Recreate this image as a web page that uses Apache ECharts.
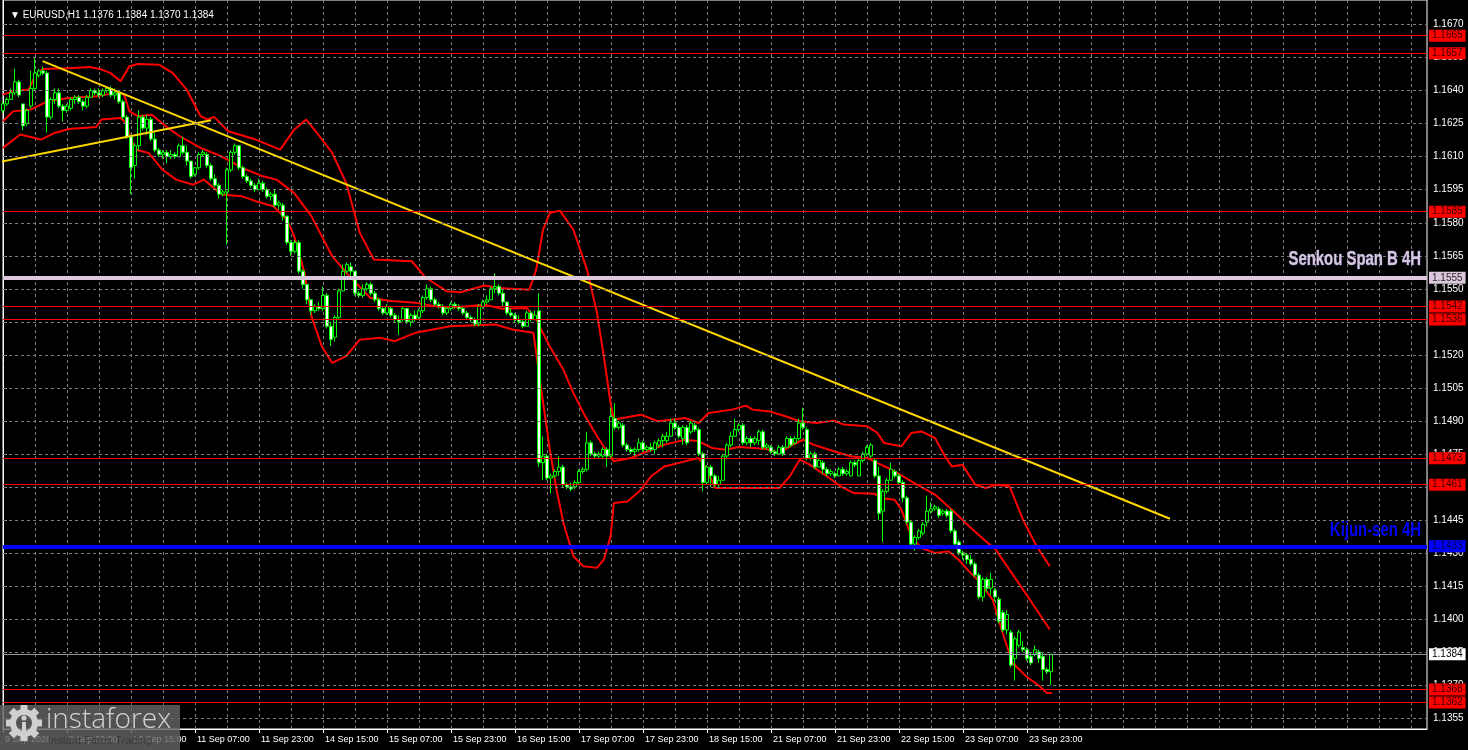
<!DOCTYPE html>
<html>
<head>
<meta charset="utf-8">
<script src="https://cdn.jsdelivr.net/npm/echarts@6/dist/echarts.min.js"></script>
<style>
html,body{margin:0;padding:0;background:#000;}
#chart{width:1468px;height:750px;}
</style>
</head>
<body>
<div id="chart"></div>
<script>
// ---------------- DATA ----------------
const symbolName = 'EURUSD,H1';
const xTickLabels = ['9 Sep 2026','9 Sep 23:00','10 Sep 15:00','11 Sep 07:00','11 Sep 23:00','14 Sep 15:00','15 Sep 07:00','15 Sep 23:00','16 Sep 15:00','17 Sep 07:00','17 Sep 23:00','18 Sep 15:00','21 Sep 07:00','21 Sep 23:00','22 Sep 15:00','23 Sep 07:00','23 Sep 23:00'];
const yTickValues = [1.1355,1.1370,1.1385,1.1400,1.1415,1.1430,1.1445,1.1460,1.1475,1.1490,1.1505,1.1520,1.1535,1.1550,1.1565,1.1580,1.1595,1.1610,1.1625,1.1640,1.1655,1.1670];

// hourly candles: [open, close, low, high]
const ohlc = [
[1.1631,1.1634,1.1630,1.1635],[1.1634,1.1636,1.1633,1.1637],[1.1636,1.1639,1.1636,1.1641],[1.1639,1.1644,1.1638,1.1650],
[1.1644,1.1638,1.1637,1.1645],[1.1634,1.1624,1.1622,1.1634],[1.1625,1.1631,1.1624,1.1632],[1.1633,1.1641,1.1632,1.1649],
[1.1641,1.1648,1.1640,1.1655],[1.1647,1.1649,1.1646,1.1650],[1.1649,1.1648,1.1647,1.1651],[1.1648,1.1628,1.1621,1.1649],
[1.1628,1.1636,1.1627,1.1637],[1.1636,1.1639,1.1634,1.1641],[1.1639,1.1633,1.1632,1.1641],[1.1633,1.1631,1.1626,1.1634],
[1.1631,1.1633,1.1630,1.1634],[1.1632,1.1636,1.1631,1.1637],[1.1636,1.1637,1.1634,1.1638],[1.1637,1.1635,1.1634,1.1638],
[1.1635,1.1633,1.1631,1.1636],[1.1633,1.1637,1.1632,1.1638],[1.1637,1.1640,1.1637,1.1641],[1.1640,1.1639,1.1638,1.1641],
[1.1639,1.1638,1.1637,1.1641],[1.1638,1.1640,1.1637,1.1641],[1.1640,1.1641,1.1639,1.1642],[1.1641,1.1638,1.1637,1.1642],
[1.1638,1.1639,1.1636,1.1641],[1.1639,1.1635,1.1634,1.1640],[1.1635,1.1628,1.1627,1.1636],[1.1628,1.1619,1.1618,1.1629],
[1.1619,1.1605,1.1593,1.1620],[1.1606,1.1615,1.1600,1.1616],[1.1615,1.1628,1.1613,1.1631],[1.1628,1.1623,1.1622,1.1629],
[1.1623,1.1627,1.1620,1.1629],[1.1627,1.1618,1.1617,1.1628],[1.1618,1.1613,1.1612,1.1621],[1.1613,1.1611,1.1610,1.1614],
[1.1611,1.1612,1.1609,1.1613],[1.1612,1.1610,1.1607,1.1613],[1.1610,1.1611,1.1609,1.1613],[1.1611,1.1610,1.1609,1.1612],
[1.1610,1.1615,1.1610,1.1616],[1.1615,1.1612,1.1611,1.1619],[1.1612,1.1608,1.1606,1.1615],[1.1608,1.1601,1.1600,1.1608],
[1.1602,1.1605,1.1601,1.1605],[1.1605,1.1611,1.1604,1.1612],[1.1611,1.1612,1.1610,1.1613],[1.1611,1.1606,1.1605,1.1612],
[1.1606,1.1600,1.1599,1.1607],[1.1600,1.1597,1.1596,1.1602],[1.1597,1.1593,1.1591,1.1598],[1.1593,1.1594,1.1592,1.1595],
[1.1594,1.1604,1.1570,1.1605],[1.1604,1.1612,1.1603,1.1613],[1.1612,1.1615,1.1611,1.1616],[1.1615,1.1605,1.1604,1.1615],
[1.1605,1.1601,1.1600,1.1606],[1.1601,1.1599,1.1598,1.1602],[1.1599,1.1597,1.1596,1.1600],[1.1597,1.1595,1.1594,1.1598],
[1.1595,1.1598,1.1595,1.1600],[1.1598,1.1595,1.1594,1.1599],[1.1595,1.1592,1.1591,1.1596],[1.1592,1.1593,1.1590,1.1594],
[1.1593,1.1588,1.1587,1.1595],[1.1588,1.1589,1.1586,1.1590],[1.1588,1.1583,1.1581,1.1589],[1.1583,1.1571,1.1570,1.1583],
[1.1571,1.1567,1.1565,1.1572],[1.1567,1.1571,1.1566,1.1572],[1.1571,1.1558,1.1557,1.1572],[1.1558,1.1552,1.1550,1.1559],
[1.1552,1.1545,1.1543,1.1552],[1.1545,1.1540,1.1538,1.1545],[1.1540,1.1542,1.1539,1.1543],[1.1542,1.1541,1.1540,1.1544],
[1.1541,1.1547,1.1540,1.1551],[1.1547,1.1533,1.1532,1.1548],[1.1533,1.1527,1.1524,1.1535],[1.1528,1.1537,1.1526,1.1538],
[1.1537,1.1549,1.1536,1.1550],[1.1549,1.1558,1.1549,1.1561],[1.1558,1.1561,1.1557,1.1562],[1.1560,1.1558,1.1556,1.1562],
[1.1558,1.1548,1.1547,1.1558],[1.1548,1.1547,1.1546,1.1549],[1.1547,1.1550,1.1546,1.1552],[1.1550,1.1552,1.1549,1.1553],
[1.1552,1.1548,1.1547,1.1553],[1.1548,1.1545,1.1544,1.1549],[1.1545,1.1541,1.1540,1.1546],[1.1541,1.1539,1.1538,1.1542],
[1.1539,1.1542,1.1538,1.1543],[1.1541,1.1538,1.1537,1.1542],[1.1538,1.1536,1.1535,1.1539],[1.1536,1.1535,1.1529,1.1538],
[1.1536,1.1541,1.1535,1.1542],[1.1541,1.1535,1.1534,1.1541],[1.1535,1.1538,1.1533,1.1539],[1.1538,1.1536,1.1535,1.1540],
[1.1537,1.1540,1.1536,1.1541],[1.1540,1.1546,1.1539,1.1547],[1.1546,1.1550,1.1545,1.1552],[1.1550,1.1545,1.1544,1.1551],
[1.1545,1.1543,1.1542,1.1546],[1.1543,1.1542,1.1541,1.1544],[1.1542,1.1539,1.1538,1.1543],[1.1539,1.1541,1.1538,1.1542],
[1.1541,1.1543,1.1540,1.1544],[1.1543,1.1542,1.1541,1.1544],[1.1542,1.1541,1.1540,1.1543],[1.1541,1.1539,1.1538,1.1542],
[1.1539,1.1537,1.1536,1.1540],[1.1537,1.1536,1.1535,1.1538],[1.1536,1.1534,1.1533,1.1537],[1.1534,1.1542,1.1533,1.1543],
[1.1542,1.1544,1.1541,1.1545],[1.1544,1.1545,1.1543,1.1547],[1.1545,1.1550,1.1545,1.1551],[1.1550,1.1551,1.1548,1.1557],
[1.1551,1.1548,1.1547,1.1552],[1.1548,1.1544,1.1542,1.1550],[1.1544,1.1539,1.1538,1.1544],[1.1539,1.1538,1.1537,1.1541],
[1.1538,1.1536,1.1535,1.1539],[1.1536,1.1535,1.1534,1.1538],[1.1535,1.1533,1.1532,1.1536],[1.1533,1.1539,1.1533,1.1540],
[1.1539,1.1536,1.1535,1.1540],[1.1536,1.1538,1.1536,1.1540],[1.1540,1.1471,1.1469,1.1548],[1.1471,1.1474,1.1463,1.1483],
[1.1474,1.1464,1.1463,1.1475],[1.1464,1.1465,1.1457,1.1466],[1.1465,1.1467,1.1464,1.1468],[1.1467,1.1469,1.1465,1.1474],
[1.1469,1.1461,1.1460,1.1470],[1.1461,1.1460,1.1459,1.1462],[1.1460,1.1459,1.1458,1.1462],[1.1460,1.1462,1.1459,1.1463],
[1.1462,1.1467,1.1461,1.1468],[1.1467,1.1468,1.1466,1.1469],[1.1468,1.1480,1.1467,1.1485],[1.1480,1.1475,1.1474,1.1481],
[1.1475,1.1474,1.1473,1.1476],[1.1474,1.1475,1.1473,1.1476],[1.1474,1.1477,1.1473,1.1478],[1.1477,1.1474,1.1469,1.1478],
[1.1474,1.1492,1.1473,1.1496],[1.1491,1.1487,1.1486,1.1498],[1.1487,1.1489,1.1486,1.1490],[1.1488,1.1479,1.1478,1.1489],
[1.1479,1.1477,1.1476,1.1480],[1.1477,1.1476,1.1475,1.1478],[1.1476,1.1477,1.1474,1.1478],[1.1477,1.1480,1.1476,1.1482],
[1.1480,1.1477,1.1476,1.1481],[1.1477,1.1478,1.1476,1.1479],[1.1478,1.1477,1.1476,1.1480],[1.1477,1.1480,1.1475,1.1481],
[1.1479,1.1481,1.1478,1.1482],[1.1481,1.1483,1.1478,1.1484],[1.1481,1.1483,1.1480,1.1485],[1.1483,1.1489,1.1483,1.1491],
[1.1489,1.1487,1.1486,1.1491],[1.1487,1.1483,1.1482,1.1488],[1.1482,1.1487,1.1479,1.1488],[1.1487,1.1480,1.1479,1.1488],
[1.1485,1.1489,1.1484,1.1490],[1.1488,1.1486,1.1485,1.1489],[1.1486,1.1475,1.1474,1.1487],[1.1475,1.1462,1.1458,1.1476],
[1.1462,1.1469,1.1461,1.1470],[1.1469,1.1465,1.1460,1.1470],[1.1465,1.1461,1.1460,1.1466],[1.1461,1.1463,1.1460,1.1465],
[1.1463,1.1474,1.1463,1.1475],[1.1474,1.1479,1.1473,1.1480],[1.1479,1.1483,1.1478,1.1485],[1.1483,1.1486,1.1483,1.1491],
[1.1486,1.1488,1.1485,1.1489],[1.1488,1.1480,1.1479,1.1489],[1.1480,1.1482,1.1479,1.1483],[1.1482,1.1480,1.1478,1.1483],
[1.1480,1.1482,1.1479,1.1483],[1.1481,1.1485,1.1479,1.1486],[1.1485,1.1478,1.1477,1.1486],[1.1478,1.1479,1.1477,1.1480],
[1.1478,1.1476,1.1475,1.1479],[1.1476,1.1475,1.1474,1.1477],[1.1475,1.1478,1.1475,1.1479],[1.1478,1.1475,1.1474,1.1479],
[1.1478,1.1482,1.1478,1.1483],[1.1482,1.1479,1.1478,1.1483],[1.1480,1.1482,1.1479,1.1483],[1.1482,1.1489,1.1481,1.1491],
[1.1489,1.1487,1.1486,1.1496],[1.1486,1.1473,1.1472,1.1487],[1.1473,1.1475,1.1472,1.1476],[1.1475,1.1469,1.1468,1.1476],
[1.1469,1.1472,1.1469,1.1473],[1.1471,1.1468,1.1466,1.1472],[1.1468,1.1466,1.1465,1.1469],[1.1466,1.1467,1.1465,1.1468],
[1.1466,1.1465,1.1464,1.1467],[1.1465,1.1468,1.1465,1.1469],[1.1468,1.1466,1.1465,1.1469],[1.1466,1.1467,1.1465,1.1468],
[1.1465,1.1471,1.1465,1.1472],[1.1471,1.1470,1.1469,1.1472],[1.1465,1.1472,1.1465,1.1473],[1.1472,1.1475,1.1471,1.1476],
[1.1475,1.1478,1.1474,1.1479],[1.1474,1.1479,1.1473,1.1480],[1.1472,1.1465,1.1464,1.1473],[1.1465,1.1448,1.1445,1.1469],
[1.1449,1.1458,1.1435,1.1459],[1.1458,1.1463,1.1457,1.1464],[1.1463,1.1468,1.1463,1.1471],[1.1467,1.1465,1.1464,1.1468],
[1.1465,1.1462,1.1461,1.1466],[1.1462,1.1455,1.1453,1.1463],[1.1455,1.1444,1.1443,1.1456],[1.1444,1.1434,1.1433,1.1445],
[1.1434,1.1437,1.1431,1.1438],[1.1437,1.1440,1.1436,1.1441],[1.1439,1.1443,1.1438,1.1444],[1.1444,1.1449,1.1442,1.1456],
[1.1449,1.1450,1.1448,1.1453],[1.1450,1.1451,1.1449,1.1452],[1.1450,1.1447,1.1446,1.1451],[1.1448,1.1449,1.1447,1.1450],
[1.1449,1.1447,1.1446,1.1450],[1.1449,1.1440,1.1439,1.1450],[1.1440,1.1434,1.1433,1.1441],[1.1435,1.1430,1.1429,1.1436],
[1.1430,1.1429,1.1427,1.1431],[1.1429,1.1427,1.1425,1.1430],[1.1427,1.1425,1.1424,1.1429],[1.1425,1.1420,1.1419,1.1426],
[1.1420,1.1410,1.1409,1.1421],[1.1410,1.1418,1.1408,1.1419],[1.1418,1.1414,1.1412,1.1419],[1.1414,1.1418,1.1411,1.1421],
[1.1413,1.1410,1.1408,1.1414],[1.1409,1.1399,1.1398,1.1410],[1.1403,1.1395,1.1394,1.1404],[1.1395,1.1402,1.1393,1.1404],
[1.1394,1.1379,1.1378,1.1395],[1.1382,1.1391,1.1372,1.1392],[1.1388,1.1394,1.1387,1.1395],[1.1387,1.1386,1.1385,1.1390],
[1.1386,1.1382,1.1381,1.1387],[1.1383,1.1380,1.1379,1.1385],[1.1384,1.1386,1.1383,1.1388],[1.1385,1.1382,1.1380,1.1386],
[1.1383,1.1377,1.1372,1.1385],[1.1377,1.1376,1.1375,1.1378],[1.1376,1.1384,1.1370,1.1384]
];

// band indicator lines: [bar index, price]
const upperBand = [[0,1.16382],[2.5,1.16397],[6.4,1.16405],[7.7,1.16453],[9.9,1.16499],[16.4,1.16502],[21.6,1.16508],[24.2,1.16499],[26.8,1.16481],[29.4,1.16443],[31.6,1.16511],[33.7,1.16521],[39.0,1.16518],[42.4,1.16481],[45.9,1.16405],[49.4,1.16284],[51.1,1.16269],[52.8,1.16281],[56.3,1.16216],[63.2,1.16178],[69.3,1.16132],[72.8,1.16223],[75.8,1.16269],[78.8,1.16201],[82.3,1.16117],[85.8,1.15981],[89.2,1.15754],[92.7,1.15633],[102.2,1.15625],[105.7,1.15550],[110.9,1.15489],[114.4,1.15484],[120.4,1.15515],[123.9,1.15504],[131.6,1.15496],[133.3,1.15587],[135.0,1.15768],[136.7,1.15844],[139.2,1.15855],[142.6,1.15768],[146.0,1.15587],[148.5,1.15390],[150.2,1.15193],[151.9,1.14981],[152.7,1.14905],[157.0,1.14920],[159.5,1.14928],[163.7,1.14898],[167.1,1.14905],[170.5,1.14913],[173.9,1.14890],[176.4,1.14936],[182.3,1.14951],[185.7,1.14969],[187.4,1.14951],[191.6,1.14943],[195.8,1.14920],[199.2,1.14898],[203.4,1.14890],[207.7,1.14901],[210.2,1.14883],[216.1,1.14875],[218.6,1.14845],[220.3,1.14799],[224.6,1.14784],[227.1,1.14845],[229.6,1.14852],[233.0,1.14822],[235.5,1.14739],[237.2,1.14693],[239.8,1.14701],[243.1,1.14610],[245.7,1.14595],[248.2,1.14610],[251.6,1.14603],[255.0,1.14451],[258.4,1.14330],[261.7,1.14239]];
const middleBand = [[0,1.16261],[2.5,1.16306],[6.9,1.16314],[11.2,1.16352],[16.4,1.16367],[23.3,1.16375],[28.5,1.16390],[30.3,1.16382],[31.6,1.16306],[33.7,1.16284],[37.2,1.16291],[40.7,1.16238],[44.2,1.16193],[49.4,1.16140],[54.6,1.16102],[59.8,1.16049],[65.0,1.16011],[68.4,1.15996],[72.8,1.15935],[77.1,1.15830],[82.3,1.15648],[86.6,1.15557],[91.8,1.15459],[97.0,1.15444],[103.1,1.15436],[110.9,1.15413],[116.1,1.15421],[120.4,1.15428],[124.8,1.15409],[130.9,1.15413],[133.0,1.15370],[136.7,1.15238],[140.1,1.15132],[142.6,1.15026],[145.1,1.14936],[148.5,1.14830],[152.7,1.14716],[157.0,1.14731],[161.2,1.14762],[165.4,1.14792],[170.5,1.14814],[173.9,1.14807],[177.2,1.14777],[180.6,1.14769],[184.0,1.14781],[190.8,1.14772],[194.1,1.14754],[197.5,1.14792],[200.1,1.14814],[202.6,1.14792],[207.7,1.14762],[211.9,1.14739],[216.1,1.14731],[218.6,1.14709],[222.9,1.14671],[227.1,1.14625],[233.0,1.14565],[238.1,1.14481],[241.5,1.14421],[245.7,1.14353],[248.2,1.14315],[251.6,1.14224],[255.0,1.14133],[258.4,1.14042],[261.7,1.13952]];
const lowerBand = [[0,1.16140],[4.3,1.16201],[9.5,1.16178],[12.9,1.16208],[16.4,1.16226],[23.3,1.16235],[24.6,1.16269],[29.4,1.16276],[30.7,1.16254],[32.0,1.16178],[33.3,1.16132],[36.4,1.16117],[39.8,1.16042],[43.3,1.15996],[47.6,1.15973],[50.2,1.15996],[54.6,1.15928],[59.8,1.15920],[63.2,1.15898],[67.6,1.15875],[71.0,1.15814],[72.8,1.15739],[75.4,1.15572],[77.1,1.15375],[79.7,1.15239],[82.3,1.15163],[85.8,1.15194],[89.2,1.15269],[94.4,1.15277],[97.9,1.15262],[103.1,1.15300],[111.8,1.15330],[123.1,1.15338],[127.4,1.15315],[132.6,1.15300],[134.1,1.15102],[136.7,1.14769],[138.4,1.14587],[140.1,1.14436],[142.6,1.14285],[145.1,1.14239],[148.5,1.14232],[150.2,1.14270],[151.9,1.14375],[152.7,1.14527],[156.1,1.14534],[159.5,1.14587],[162.0,1.14648],[165.4,1.14693],[170.5,1.14716],[173.9,1.14731],[175.5,1.14693],[178.1,1.14595],[194.1,1.14595],[196.7,1.14648],[199.2,1.14724],[201.7,1.14701],[206.0,1.14648],[209.3,1.14603],[212.7,1.14572],[217.8,1.14569],[219.5,1.14550],[222.9,1.14542],[224.6,1.14497],[227.1,1.14375],[229.6,1.14322],[233.0,1.14300],[236.4,1.14307],[238.9,1.14269],[241.5,1.14216],[244.0,1.14171],[247.4,1.14088],[249.9,1.13936],[252.4,1.13800],[255.8,1.13739],[259.2,1.13694],[260.9,1.13664],[262.2,1.13664]];

// trend lines: [bar index, price]
const trendDown = [[9.9,1.16534],[291.75,1.14455]];
const trendUp = [[-0.5,1.16077],[52,1.16266]];

// horizontal levels
const redLevels = [1.1665,1.1657,1.1585,1.1542,1.1536,1.1473,1.1461,1.1368,1.1362];
const senkouB = 1.1555;
const kijun = 1.1433;
const lastPrice = 1.1384;
const senkouText = 'Senkou Span B 4H';
const kijunText = 'Kijun-sen 4H';

// ---------------- CHART ----------------
const SLOTS = 357;
const Y_MIN = 1.1350, Y_MAX = 1.16812;
const baseFont = "'Liberation Sans', Arial, sans-serif";
const categories = Array.from({length: SLOTS}, (_, i) => String(i));
const last = ohlc[ohlc.length - 1];

function boxLabel(bg, fg) {
  return {
    show: true, position: 'end', distance: 2,
    formatter: p => Number(p.value).toFixed(4),
    backgroundColor: bg, color: fg,
    fontFamily: baseFont, fontSize: 10, lineHeight: 11,
    padding: [1, 3, 0, 3]
  };
}

const levelLines = [];
redLevels.forEach(v => levelLines.push({yAxis: v, lineStyle: {color: '#ff0000', width: 1, type: 'solid'}, label: boxLabel('#ff0000', '#3a0000')}));
levelLines.push({yAxis: lastPrice, lineStyle: {color: '#8e9aa6', width: 1, type: 'solid'}, label: boxLabel('#ffffff', '#000000')});
levelLines.push({yAxis: senkouB, lineStyle: {color: '#dcc8dc', width: 4, type: 'solid'}, label: boxLabel('#dcc8dc', '#2a2a2a')});
levelLines.push({yAxis: kijun, lineStyle: {color: '#0000ff', width: 4, type: 'solid'}, label: boxLabel('#0000ff', '#000040')});

// watermark pieces
const watermark = [
  {id: 'wmBox', type: 'rect', left: 0, top: 705, shape: {width: 180, height: 45}, style: {fill: 'rgba(100,100,100,0.82)'}, z: 100},
  {id: 'wmRing', type: 'ring', shape: {cx: 24, cy: 723, r: 14, r0: 8}, style: {fill: '#cfcfcf'}, z: 101},
  {id: 'wmHead', type: 'circle', shape: {cx: 24, cy: 718, r: 2.6}, style: {fill: '#cfcfcf'}, z: 101},
  {id: 'wmBody', type: 'rect', shape: {x: 22, y: 722, width: 4, height: 12}, style: {fill: '#cfcfcf'}, z: 101},
  {id: 'wmText', type: 'text', left: 46, top: 706, style: {text: 'instaforex', fill: '#d4d4d4', font: '300 28px "Open Sans", sans-serif'}, z: 101},
  {id: 'wmSub', type: 'text', left: 48, top: 735, style: {text: 'Instant Forex Trading', fill: '#3a3a3a', font: '11px "Liberation Sans", Arial, sans-serif'}, z: 101}
];
for (let k = 0; k < 8; k++) {
  watermark.push({id: 'wmTooth' + k, type: 'rect', x: 24, y: 723, rotation: k * Math.PI / 4,
    shape: {x: -3.5, y: -18, width: 7, height: 6}, style: {fill: '#cfcfcf'}, z: 101});
}

const option = {
  backgroundColor: '#000000',
  animation: false,
  title: {
    text: '▼ ' + symbolName + ' ' + [last[0], last[3], last[2], last[1]].map(v => v.toFixed(4)).join(' '),
    left: 5, top: 5,
    textStyle: {color: '#ffffff', fontSize: 10, fontWeight: 'normal', fontFamily: baseFont}
  },
  grid: {left: 3, right: 41, top: 0, bottom: 21, show: true, borderColor: '#ffffff', borderWidth: 1, backgroundColor: 'transparent'},
  xAxis: [{
    type: 'category', data: categories, boundaryGap: false,
    axisLine: {show: true, lineStyle: {color: '#ffffff', width: 1}},
    axisTick: {show: true, length: 4, lineStyle: {color: '#ffffff'},
      interval: i => i % 16 === 0 && i / 16 < xTickLabels.length},
    axisLabel: {show: true, color: '#ffffff', fontSize: 9, fontFamily: baseFont, align: 'left', margin: 6,
      padding: [0, 0, 0, 2],
      interval: i => i % 16 === 0 && i / 16 < xTickLabels.length,
      formatter: (v, i) => xTickLabels[i / 16] || ''},
    splitLine: {show: true, interval: i => i % 8 === 0, lineStyle: {color: '#7f7f7f', type: [3, 3], width: 1}}
  }, {
    type: 'value', min: 0, max: SLOTS - 1, show: false
  }],
  yAxis: {
    type: 'value', position: 'right', min: Y_MIN, max: Y_MAX,
    axisLine: {show: true, lineStyle: {color: '#ffffff', width: 1}},
    axisTick: {show: true, length: 4, customValues: yTickValues, lineStyle: {color: '#a0a0a0'}},
    axisLabel: {show: true, customValues: yTickValues, color: '#ffffff', fontSize: 10, fontFamily: baseFont, margin: 6,
      formatter: v => Number(v).toFixed(4)},
    splitLine: {show: false}
  },
  graphic: watermark,
  series: [
    {
      name: 'grid', type: 'line', xAxisIndex: 1, data: [], z: 1, silent: true,
      markLine: {silent: true, symbol: 'none', animation: false, precision: 6, label: {show: false},
        lineStyle: {color: '#7f7f7f', type: [3, 3], width: 1},
        data: yTickValues.map(v => ({yAxis: v}))}
    },
    {name: 'upper', type: 'line', xAxisIndex: 1, data: upperBand, showSymbol: false, symbol: 'none', z: 2, silent: true,
      lineStyle: {color: '#ff0000', width: 2}},
    {name: 'middle', type: 'line', xAxisIndex: 1, data: middleBand, showSymbol: false, symbol: 'none', z: 2, silent: true,
      lineStyle: {color: '#ff0000', width: 2}},
    {name: 'lower', type: 'line', xAxisIndex: 1, data: lowerBand, showSymbol: false, symbol: 'none', z: 2, silent: true,
      lineStyle: {color: '#ff0000', width: 2}},
    {
      name: 'EURUSD', type: 'candlestick', xAxisIndex: 0, data: ohlc, z: 3, barWidth: 3,
      itemStyle: {color: '#000000', color0: '#ffffff', borderColor: '#00ff00', borderColor0: '#00ff00', borderWidth: 1}
    },
    {name: 'trendDown', type: 'line', xAxisIndex: 1, data: trendDown, showSymbol: false, symbol: 'none', z: 4, silent: true,
      lineStyle: {color: '#ffd700', width: 2}},
    {name: 'trendUp', type: 'line', xAxisIndex: 1, data: trendUp, showSymbol: false, symbol: 'none', z: 4, silent: true,
      lineStyle: {color: '#ffd700', width: 2}},
    {
      name: 'levels', type: 'line', xAxisIndex: 1, data: [], z: 5, silent: true,
      markLine: {silent: true, symbol: 'none', animation: false, precision: 6, data: levelLines}
    }
  ]
};

const chart = echarts.init(document.getElementById('chart'), null, {renderer: 'canvas'});
chart.setOption(option);

// condensed bold captions above the two 4H levels, anchored through the y scale
const gridRight = chart.convertToPixel({xAxisIndex: 1}, SLOTS - 1);
const ySenkou = chart.convertToPixel({yAxisIndex: 0}, senkouB);
const yKijun = chart.convertToPixel({yAxisIndex: 0}, kijun);
chart.setOption({
  graphic: [
    {id: 'capSenkou', type: 'text', x: gridRight - 6, y: ySenkou - 8, scaleX: 0.71, z: 50,
      style: {text: senkouText, textAlign: 'right', textVerticalAlign: 'bottom', fill: '#d8c6de',
        stroke: '#6c6cae', lineWidth: 0.7, font: 'bold 21px "Liberation Sans", Arial, sans-serif'}},
    {id: 'capKijun', type: 'text', x: gridRight - 6, y: yKijun - 6, scaleX: 0.71, z: 50,
      style: {text: kijunText, textAlign: 'right', textVerticalAlign: 'bottom', fill: '#0000ff',
        font: 'bold 21px "Liberation Sans", Arial, sans-serif'}}
  ]
});
</script>
</body>
</html>
